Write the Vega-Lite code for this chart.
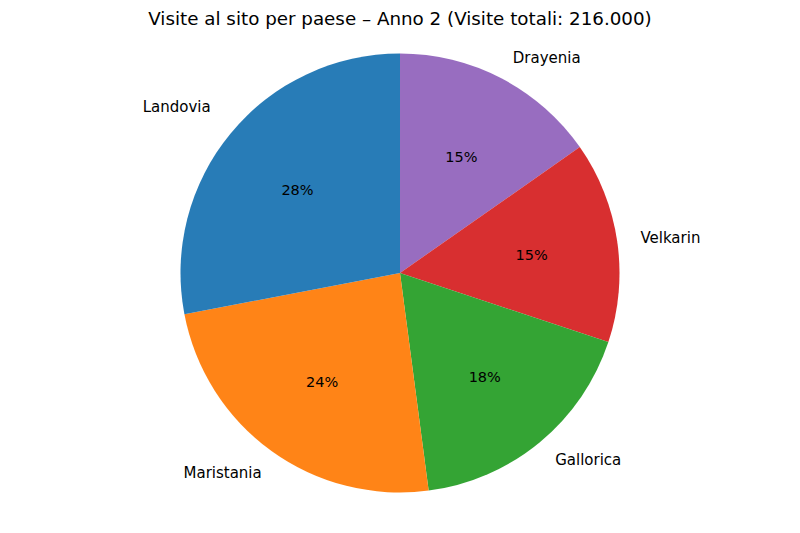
{
  "$schema": "https://vega.github.io/schema/vega-lite/v6.json",
  "autosize": {"type": "none"},
  "width": 800,
  "height": 466,
  "padding": {"top": 40, "left": 0, "right": 0, "bottom": 27},
  "background": "white",
  "view": {"stroke": null},
  "config": {"font": "DejaVu Sans"},
  "title": {
    "text": "Visite al sito per paese – Anno 2 (Visite totali: 216.000)",
    "fontSize": 18.3,
    "fontWeight": "normal",
    "color": "#000000",
    "anchor": "middle",
    "offset": 11
  },
  "data": {
    "values": [
      {"paese": "Drayenia", "visite": 33000, "ordine": 1},
      {"paese": "Velkarin", "visite": 32000, "ordine": 2},
      {"paese": "Gallorica", "visite": 38500, "ordine": 3},
      {"paese": "Maristania", "visite": 52000, "ordine": 4},
      {"paese": "Landovia", "visite": 60500, "ordine": 5}
    ]
  },
  "transform": [
    {"stack": "visite", "groupby": [], "sort": [{"field": "ordine", "order": "ascending"}], "as": ["v0", "v1"]},
    {"calculate": "(datum.v0 + datum.v1) / 2", "as": "mid"},
    {"joinaggregate": [{"op": "sum", "field": "visite", "as": "totale"}]},
    {"calculate": "datum.visite / datum.totale", "as": "quota"}
  ],
  "layer": [
    {
      "mark": {"type": "arc", "outerRadius": 219.5, "opacity": 0.96},
      "encoding": {
        "theta": {"field": "v0", "type": "quantitative", "scale": {"domain": [0, 216000], "range": [0, 6.283185307]}},
        "theta2": {"field": "v1"},
        "color": {
          "field": "paese",
          "type": "nominal",
          "legend": null,
          "scale": {
            "domain": ["Landovia", "Maristania", "Gallorica", "Velkarin", "Drayenia"],
            "range": ["#1f77b4", "#ff7f0e", "#2ca02c", "#d62728", "#9467bd"]
          }
        }
      }
    },
    {
      "mark": {"type": "text", "radius": 133, "fontSize": 14.5, "color": "#000000", "align": "center", "baseline": "middle", "dy": 2.5},
      "encoding": {
        "theta": {"field": "mid", "type": "quantitative"},
        "text": {"field": "quota", "type": "quantitative", "format": ".0%"}
      }
    },
    {
      "transform": [{"filter": "indexof(['Drayenia', 'Velkarin', 'Gallorica'], datum.paese) >= 0"}],
      "mark": {"type": "text", "radius": 242, "fontSize": 15, "color": "#000000", "align": "left", "baseline": "middle", "dx": 1},
      "encoding": {
        "theta": {"field": "mid", "type": "quantitative"},
        "text": {"field": "paese", "type": "nominal"}
      }
    },
    {
      "transform": [{"filter": "datum.paese === 'Maristania'"}],
      "mark": {"type": "text", "radius": 243, "fontSize": 15, "color": "#000000", "align": "right", "baseline": "middle", "dx": 4, "dy": 3},
      "encoding": {
        "theta": {"field": "mid", "type": "quantitative"},
        "text": {"field": "paese", "type": "nominal"}
      }
    },
    {
      "transform": [{"filter": "datum.paese === 'Landovia'"}],
      "mark": {"type": "text", "radius": 243, "fontSize": 15, "color": "#000000", "align": "right", "baseline": "middle", "dx": -2, "dy": -11},
      "encoding": {
        "theta": {"field": "mid", "type": "quantitative"},
        "text": {"field": "paese", "type": "nominal"}
      }
    }
  ]
}
